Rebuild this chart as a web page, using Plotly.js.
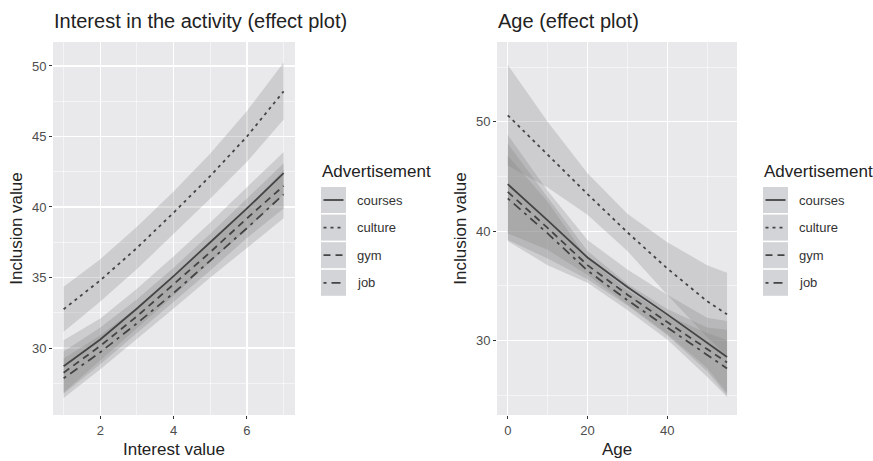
<!DOCTYPE html>
<html>
<head>
<meta charset="utf-8">
<script src="https://cdn.plot.ly/plotly-3.0.1.min.js"></script>
<style>
  html, body { margin: 0; padding: 0; background: #ffffff; }
  #chart { width: 873px; height: 461px; }
</style>
</head>
<body>
<div id="chart"></div>
<script>
// ---------- data ----------
const categories = ["courses", "culture", "gym", "job"];

// Left panel: Interest value
const interestX = [1, 2, 3, 4, 5, 6, 7];
const interestFit = {
  courses: [28.7, 30.6, 32.8, 35.1, 37.5, 39.9, 42.4],
  culture: [32.75, 34.8, 37.1, 39.6, 42.2, 45.0, 48.2],
  gym:     [28.25, 30.15, 32.25, 34.5, 36.8, 39.2, 41.5],
  job:     [27.85, 29.7, 31.75, 33.9, 36.2, 38.5, 40.9]
};
const interestLower = {
  courses: [26.85, 29.1, 31.4, 33.7, 36.1, 38.4, 40.9],
  culture: [31.15, 33.3, 35.6, 38.1, 40.6, 43.2, 46.2],
  gym:     [26.75, 28.85, 31.05, 33.3, 35.5, 37.8, 39.9],
  job:     [26.45, 28.5, 30.65, 32.8, 35.0, 37.1, 39.2]
};
const interestUpper = {
  courses: [30.55, 32.1, 34.2, 36.5, 38.9, 41.4, 43.9],
  culture: [34.35, 36.3, 38.6, 41.1, 43.8, 46.8, 50.25],
  gym:     [29.75, 31.45, 33.45, 35.7, 38.1, 40.6, 43.1],
  job:     [29.25, 30.9, 32.85, 35.0, 37.4, 39.9, 42.6]
};

// Right panel: Age
const ageX = [0, 10, 20, 30, 40, 50, 55];
const ageFit = {
  courses: [44.3, 41.0, 37.6, 34.9, 32.4, 29.8, 28.5],
  culture: [50.6, 47.0, 43.4, 39.9, 36.6, 33.6, 32.4],
  gym:     [43.6, 40.3, 36.9, 34.2, 31.7, 29.2, 28.0],
  job:     [43.0, 39.8, 36.4, 33.7, 31.2, 28.7, 27.45]
};
const ageLower = {
  courses: [39.8, 38.3, 36.0, 33.3, 30.6, 27.5, 25.2],
  culture: [46.0, 44.0, 41.5, 38.2, 34.2, 30.3, 28.6],
  gym:     [39.2, 37.5, 35.6, 33.2, 30.5, 27.2, 25.0],
  job:     [39.1, 36.9, 35.3, 32.8, 30.1, 26.7, 24.85]
};
const ageUpper = {
  courses: [48.8, 43.7, 39.2, 36.5, 34.2, 32.1, 31.8],
  culture: [55.2, 50.0, 45.3, 41.6, 39.0, 36.9, 36.2],
  gym:     [48.0, 43.1, 38.2, 35.2, 32.9, 31.2, 31.0],
  job:     [46.9, 42.7, 37.5, 34.6, 32.3, 30.7, 30.05]
};

// ---------- styles ----------
const W = 873, H = 461;
const FONT = "Liberation Sans, Arial, Helvetica, sans-serif";
const LINE_COLOR = "#444444";
const RIBBON = "rgba(128,128,128,0.27)";
const dashes = {
  courses: "solid",
  culture: "3px,4px",
  gym: "7px,5px",
  job: "3px,5px,9px,5px"
};
const px2x = p => p / W;
const px2y = p => 1 - p / H;

const traces = [];
function addPanel(xs, fit, lo, hi, xa, ya) {
  categories.forEach(c => {
    traces.push({
      type: "scatter", mode: "lines",
      x: xs.concat(xs.slice().reverse()),
      y: hi[c].concat(lo[c].slice().reverse()),
      fill: "toself", fillcolor: RIBBON,
      line: { width: 0, color: "rgba(0,0,0,0)" },
      hoverinfo: "skip", showlegend: false,
      xaxis: xa, yaxis: ya
    });
  });
  categories.forEach(c => {
    traces.push({
      type: "scatter", mode: "lines",
      x: xs, y: fit[c], name: c,
      line: { color: LINE_COLOR, width: 1.8, dash: dashes[c] },
      showlegend: false,
      xaxis: xa, yaxis: ya
    });
  });
}
addPanel(interestX, interestFit, interestLower, interestUpper, "x", "y");
addPanel(ageX, ageFit, ageLower, ageUpper, "x2", "y2");

const yDomain = [px2y(415), px2y(42)];
function axisBase(extra) {
  return Object.assign({
    showgrid: true, gridcolor: "#ffffff", gridwidth: 1.1,
    zeroline: false, showline: false,
    ticks: "outside", ticklen: 3, tickwidth: 1, tickcolor: "#333333",
    tickfont: { family: FONT, size: 13, color: "#4d4d4d" },
    fixedrange: true
  }, extra);
}
const minorGrid = d => ({ dtick: d, showgrid: true, gridcolor: "#ffffff", gridwidth: 0.5, ticklen: 0 });
const axisTitleFont = { family: FONT, size: 17, color: "#222222" };

const layout = {
  width: W, height: H,
  margin: { l: 0, r: 0, t: 0, b: 0 },
  paper_bgcolor: "#ffffff",
  plot_bgcolor: "#e9e9ec",
  showlegend: false,
  xaxis: axisBase({
    domain: [px2x(53), px2x(295)], range: [0.71, 7.31],
    tick0: 0, dtick: 2, minor: minorGrid(1),
    title: { text: "Interest value", font: axisTitleFont, standoff: 6 },
    anchor: "y"
  }),
  yaxis: axisBase({
    domain: yDomain, range: [25.25, 51.7],
    tick0: 0, dtick: 5, minor: minorGrid(2.5),
    title: { text: "Inclusion value", font: axisTitleFont, standoff: 4 },
    anchor: "x"
  }),
  xaxis2: axisBase({
    domain: [px2x(497), px2x(737)], range: [-2.7, 57.5],
    tick0: 0, dtick: 20, minor: minorGrid(10),
    title: { text: "Age", font: axisTitleFont, standoff: 6 },
    anchor: "y2"
  }),
  yaxis2: axisBase({
    domain: yDomain, range: [23.2, 57.3],
    tick0: 0, dtick: 10, minor: minorGrid(5),
    title: { text: "Inclusion value", font: axisTitleFont, standoff: 4 },
    anchor: "x2"
  }),
  annotations: [],
  shapes: []
};

// Panel titles
const panelTitles = [
  { text: "Interest in the activity (effect plot)", left: 53 },
  { text: "Age (effect plot)", left: 497 }
];
panelTitles.forEach(t => {
  layout.annotations.push({
    xref: "paper", yref: "paper", x: px2x(t.left - 1), y: px2y(21),
    xanchor: "left", yanchor: "middle", showarrow: false,
    text: t.text, font: { family: FONT, size: 20, color: "#222222" }
  });
});

// Custom ggplot-style legends
const legendLefts = [321, 763];
legendLefts.forEach(L => {
  layout.annotations.push({
    xref: "paper", yref: "paper", x: px2x(L - 1), y: px2y(171),
    xanchor: "left", yanchor: "middle", showarrow: false,
    text: "Advertisement", font: { family: FONT, size: 17, color: "#222222" }
  });
  categories.forEach((c, i) => {
    const top = 187 + i * 27.6;
    const bot = top + 26;
    const mid = (top + bot) / 2;
    layout.shapes.push({
      type: "rect", xref: "paper", yref: "paper",
      x0: px2x(L), x1: px2x(L + 25), y0: px2y(bot), y1: px2y(top),
      fillcolor: "#d3d4d7", line: { width: 0 }, layer: "above"
    });
    layout.shapes.push({
      type: "line", xref: "paper", yref: "paper",
      x0: px2x(L + 2.5), x1: px2x(L + 22.5), y0: px2y(mid), y1: px2y(mid),
      line: { color: LINE_COLOR, width: 1.8, dash: dashes[c] }, layer: "above"
    });
    layout.annotations.push({
      xref: "paper", yref: "paper", x: px2x(L + 34), y: px2y(mid),
      xanchor: "left", yanchor: "middle", showarrow: false,
      text: c, font: { family: FONT, size: 13, color: "#333333" }
    });
  });
});

Plotly.newPlot("chart", traces, layout, { displayModeBar: false, staticPlot: true });
</script>
</body>
</html>
